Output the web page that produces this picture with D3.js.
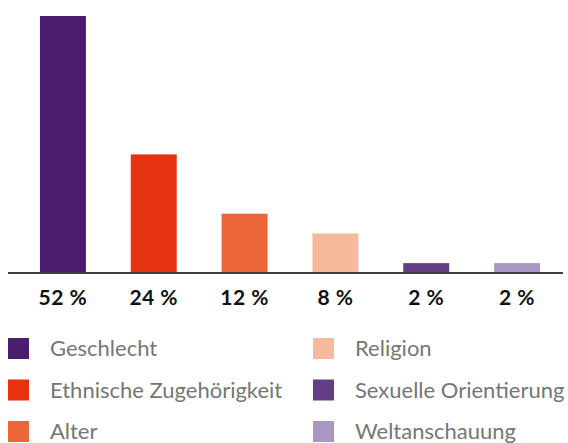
<!DOCTYPE html>
<html>
<head>
<meta charset="utf-8">
<script src="https://cdn.jsdelivr.net/npm/d3@7"></script>
<style>
  body { margin: 0; background: #fff; }
</style>
</head>
<body>
<div id="chart"></div>
<script>
// data
const categories = ["Geschlecht", "Ethnische Zugehörigkeit", "Alter", "Religion", "Sexuelle Orientierung", "Weltanschauung"];
const values = [52, 24, 12, 8, 2, 2];
const valueLabels = ["52 %", "24 %", "12 %", "8 %", "2 %", "2 %"];
const colors = ["#4b1d6f", "#e5330f", "#ec6439", "#f7b99b", "#623e85", "#a997c3"];

const width = 568;
const height = 443;
const baseY = 273;

const svg = d3.select("#chart")
    .append("svg")
    .attr("width", width)
    .attr("height", height);

const x = d3.scaleBand()
    .domain(categories)
    .range([17.5, 562.5])
    .paddingInner(0.494)
    .paddingOuter(0.247);

const y = d3.scaleLinear()
    .domain([0, 52])
    .range([baseY, 16]);

// bars
svg.selectAll(".bar")
    .data(categories)
    .enter().append("rect")
    .attr("class", "bar")
    .attr("x", d => x(d))
    .attr("y", (d, i) => y(values[i]))
    .attr("width", x.bandwidth())
    .attr("height", (d, i) => baseY - y(values[i]))
    .attr("fill", (d, i) => colors[i]);

// baseline
svg.append("line")
    .attr("x1", 8)
    .attr("x2", 563)
    .attr("y1", baseY)
    .attr("y2", baseY)
    .attr("stroke", "#3c3c3c")
    .attr("stroke-width", 2);

// value labels
svg.selectAll(".val")
    .data(categories)
    .enter().append("text")
    .attr("class", "val")
    .attr("x", d => x(d) + x.bandwidth() / 2)
    .attr("y", 305)
    .attr("text-anchor", "middle")
    .style("font-family", "Lato, sans-serif")
    .style("font-weight", "bold")
    .style("font-size", "21px")
    .style("letter-spacing", "0.5px")
    .style("fill", "#111")
    .text((d, i) => valueLabels[i]);

// legend
const legend = svg.append("g");
const item = legend.selectAll("g")
    .data(categories)
    .enter().append("g")
    .attr("transform", (d, i) => `translate(${i < 3 ? 8 : 313}, ${338 + (i % 3) * 41.5})`);

item.append("rect")
    .attr("width", 21)
    .attr("height", 21)
    .attr("fill", (d, i) => colors[i]);

item.append("text")
    .attr("x", 42)
    .attr("y", 10.5)
    .attr("dy", "0.36em")
    .style("font-family", "Lato, sans-serif")
    .style("font-size", "22px")
    .style("fill", "#767676")
    .text(d => d);
</script>
</body>
</html>
